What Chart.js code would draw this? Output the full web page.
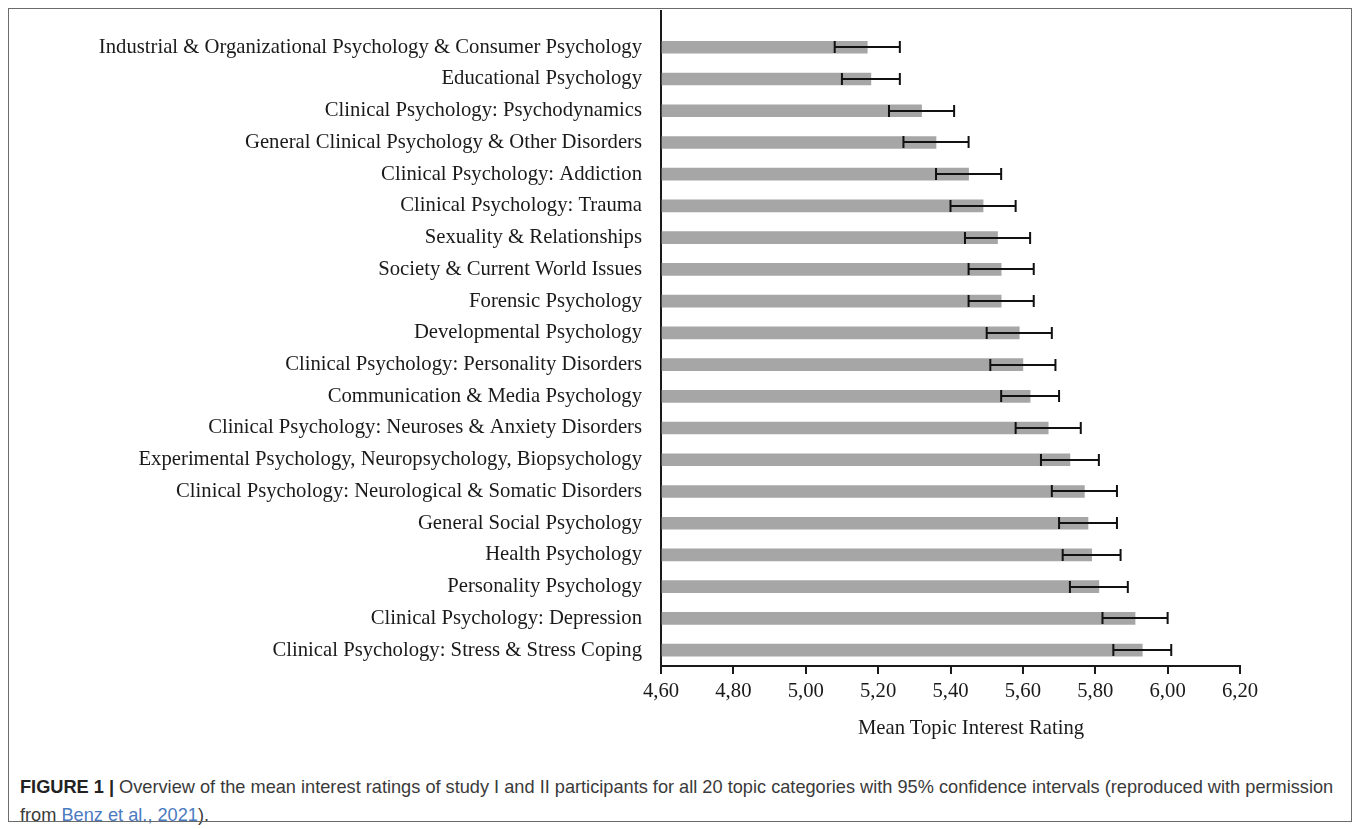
<!DOCTYPE html>
<html>
<head>
<meta charset="utf-8">
<script src="https://cdn.jsdelivr.net/npm/chart.js@4.4.1/dist/chart.umd.min.js"></script>
<style>
  html, body { margin: 0; padding: 0; background: #fff; }
  body { width: 1357px; height: 829px; position: relative; overflow: hidden; }
  #frame { position: absolute; left: 8px; top: 8px; width: 1344px; height: 814px;
           border: 1px solid #6b6b6b; box-sizing: border-box; pointer-events: none; }
  #chart { position: absolute; left: 0; top: 0; }
  #xtitle { position: absolute; left: 771px; top: 715px; width: 400px; text-align: center;
            font-family: "Liberation Serif", "Times New Roman", serif; font-size: 20.7px;
            line-height: 24px; color: #1a1a1a; }
  #caption { position: absolute; left: 20px; top: 773px; width: 1330px;
             font-family: "Liberation Sans", Arial, sans-serif; font-size: 18.2px;
             line-height: 28px; color: #3a3a3a; white-space: nowrap; }
  #caption b { color: #222; }
  #caption .ref { color: #4b7bbf; }
</style>
</head>
<body>
<canvas id="chart" width="1357" height="760"></canvas>
<div id="xtitle">Mean Topic Interest Rating</div>
<div id="caption"><b>FIGURE 1 |</b> Overview of the mean interest ratings of study I and II participants for all 20 topic categories with 95% confidence intervals (reproduced with permission<br>from <span class="ref">Benz et al., 2021</span>).</div>
<div id="frame"></div>
<script>
// Topic categories, top to bottom
const categories = [
  "Industrial & Organizational Psychology & Consumer Psychology",
  "Educational Psychology",
  "Clinical Psychology: Psychodynamics",
  "General Clinical Psychology & Other Disorders",
  "Clinical Psychology: Addiction",
  "Clinical Psychology: Trauma",
  "Sexuality & Relationships",
  "Society & Current World Issues",
  "Forensic Psychology",
  "Developmental Psychology",
  "Clinical Psychology: Personality Disorders",
  "Communication & Media Psychology",
  "Clinical Psychology: Neuroses & Anxiety Disorders",
  "Experimental Psychology, Neuropsychology, Biopsychology",
  "Clinical Psychology: Neurological & Somatic Disorders",
  "General Social Psychology",
  "Health Psychology",
  "Personality Psychology",
  "Clinical Psychology: Depression",
  "Clinical Psychology: Stress & Stress Coping"
];

// Mean topic interest ratings
const means  = [5.17, 5.18, 5.32, 5.36, 5.45, 5.49, 5.53, 5.54, 5.54, 5.59,
                5.60, 5.62, 5.67, 5.73, 5.77, 5.78, 5.79, 5.81, 5.91, 5.93];
// 95% confidence interval bounds
const ciLow  = [5.08, 5.10, 5.23, 5.27, 5.36, 5.40, 5.44, 5.45, 5.45, 5.50,
                5.51, 5.54, 5.58, 5.65, 5.68, 5.70, 5.71, 5.73, 5.82, 5.85];
const ciHigh = [5.26, 5.26, 5.41, 5.45, 5.54, 5.58, 5.62, 5.63, 5.63, 5.68,
                5.69, 5.70, 5.76, 5.81, 5.86, 5.86, 5.87, 5.89, 6.00, 6.01];

// Value axis ticks
const xTicks = [4.60, 4.80, 5.00, 5.20, 5.40, 5.60, 5.80, 6.00, 6.20];

const SERIF = '"Liberation Serif", "Times New Roman", serif';

// Whiskers with end caps for the confidence intervals
const errorBars = {
  id: 'errorBars',
  afterDatasetsDraw(chart) {
    const ctx = chart.ctx;
    const xs = chart.scales.x;
    const meta = chart.getDatasetMeta(0);
    const cap = 6;
    ctx.save();
    ctx.strokeStyle = '#111';
    ctx.lineWidth = 2;
    meta.data.forEach((bar, i) => {
      const y = Math.round(bar.y);
      const x0 = xs.getPixelForValue(ciLow[i]);
      const x1 = xs.getPixelForValue(ciHigh[i]);
      ctx.beginPath();
      ctx.moveTo(x0, y); ctx.lineTo(x1, y);
      ctx.moveTo(x0, y - cap); ctx.lineTo(x0, y + cap);
      ctx.moveTo(x1, y - cap); ctx.lineTo(x1, y + cap);
      ctx.stroke();
    });
    ctx.restore();
  }
};

// Category axis line runs up to the top of the plot frame
const axisExtension = {
  id: 'axisExtension',
  afterDraw(chart) {
    const { ctx, chartArea } = chart;
    ctx.save();
    ctx.strokeStyle = '#1a1a1a';
    ctx.lineWidth = 2;
    ctx.beginPath();
    ctx.moveTo(chartArea.left, 10);
    ctx.lineTo(chartArea.left, chartArea.top + 1);
    ctx.stroke();
    ctx.restore();
  }
};

new Chart(document.getElementById('chart'), {
  type: 'bar',
  data: {
    labels: categories,
    datasets: [{
      data: means,
      base: xTicks[0],
      backgroundColor: '#a6a6a6',
      borderWidth: 0,
      barThickness: 12
    }]
  },
  options: {
    indexAxis: 'y',
    responsive: false,
    animation: false,
    devicePixelRatio: 1,
    layout: { padding: { top: 26, right: 117, left: 0, bottom: 0 } },
    plugins: { legend: { display: false }, tooltip: { enabled: false } },
    scales: {
      x: {
        type: 'linear',
        min: xTicks[0],
        max: xTicks[xTicks.length - 1],
        afterBuildTicks: s => { s.ticks = xTicks.map(v => ({ value: v })); },
        afterFit: s => { s.height = 94; },
        grid: { display: true, drawOnChartArea: false, drawTicks: true, tickLength: 8,
                color: '#1a1a1a', lineWidth: 2 },
        border: { display: true, color: '#1a1a1a', width: 2 },
        ticks: {
          padding: 5,
          color: '#1a1a1a',
          maxRotation: 0,
          font: { family: SERIF, size: 20.7 },
          callback: v => v.toFixed(2).replace('.', ',')
        }
      },
      y: {
        type: 'category',
        afterFit: s => { s.width = 661; },
        grid: { display: false, drawTicks: false },
        border: { display: true, color: '#1a1a1a', width: 2 },
        ticks: {
          padding: 19,
          color: '#1a1a1a',
          autoSkip: false,
          font: { family: SERIF, size: 20.7 }
        }
      }
    }
  },
  plugins: [errorBars, axisExtension]
});
</script>
</body>
</html>
